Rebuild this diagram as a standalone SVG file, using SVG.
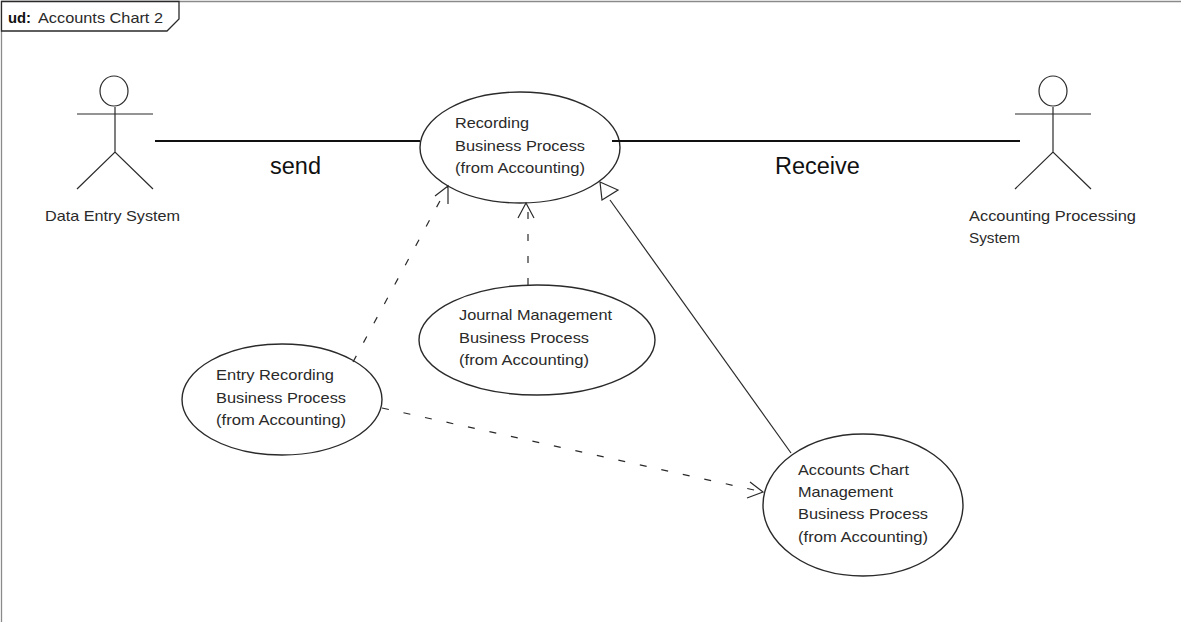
<svg xmlns="http://www.w3.org/2000/svg" width="1181" height="622" viewBox="0 0 1181 622">
<style>
.s{fill:none;stroke:#2a2a2a;stroke-width:1.2}
.e{fill:#fff;stroke:#2a2a2a;stroke-width:1.4}
.t{font-family:"Liberation Sans",Arial,sans-serif;font-size:14.5px;fill:#2a2a2a}
.b{font-family:"Liberation Sans",Arial,sans-serif;font-size:23.5px;fill:#111}
.a{fill:none;stroke:#111;stroke-width:2}
.d{fill:none;stroke:#2a2a2a;stroke-width:1.2;stroke-dasharray:7 15}
</style>
<rect width="1181" height="622" fill="#fff"/>
<g id="frame">
<path d="M1.5 622V1.5H1181" fill="none" stroke="#8a8a8a" stroke-width="1.3"/>
<path d="M1.5 1.5H179V19L167 31H1.5Z" fill="#fff" stroke="#2a2a2a" stroke-width="1.3"/>
<text x="8" y="23" style="font-family:'Liberation Sans',Arial,sans-serif;font-size:14px;font-weight:bold;fill:#111" textLength="23" lengthAdjust="spacingAndGlyphs">ud:</text>
<text class="t" x="38" y="23" textLength="125" lengthAdjust="spacingAndGlyphs">Accounts Chart 2</text>
</g>
<g id="actor-data-entry">
<ellipse class="s" cx="114" cy="91" rx="14" ry="15"/>
<path class="s" d="M77 114H153M115 107V152M77 189L115 152L153 189"/>
<text class="t" x="45" y="221" textLength="135" lengthAdjust="spacingAndGlyphs">Data Entry System</text>
</g>
<g id="actor-accounting">
<ellipse class="s" cx="1053" cy="91" rx="14" ry="15"/>
<path class="s" d="M1015 114H1091M1053 107V152M1015 189L1053 152L1091 189"/>
<text class="t" x="969" y="221" textLength="167" lengthAdjust="spacingAndGlyphs">Accounting Processing</text>
<text class="t" x="969" y="243" textLength="51" lengthAdjust="spacingAndGlyphs">System</text>
</g>
<g id="recording">
<ellipse class="e" cx="520" cy="147.5" rx="100" ry="55.5"/>
<text class="t" x="455" y="128" textLength="74" lengthAdjust="spacingAndGlyphs">Recording</text>
<text class="t" x="455" y="151" textLength="130" lengthAdjust="spacingAndGlyphs">Business Process</text>
<text class="t" x="455" y="173" textLength="130" lengthAdjust="spacingAndGlyphs">(from Accounting)</text>
</g>
<g id="journal">
<ellipse class="e" cx="537" cy="340" rx="118" ry="55"/>
<text class="t" x="459" y="320" textLength="153" lengthAdjust="spacingAndGlyphs">Journal Management</text>
<text class="t" x="459" y="343" textLength="130" lengthAdjust="spacingAndGlyphs">Business Process</text>
<text class="t" x="459" y="365" textLength="130" lengthAdjust="spacingAndGlyphs">(from Accounting)</text>
</g>
<g id="entry">
<ellipse class="e" cx="282" cy="399.5" rx="100" ry="55.5"/>
<text class="t" x="216" y="380" textLength="118" lengthAdjust="spacingAndGlyphs">Entry Recording</text>
<text class="t" x="216" y="403" textLength="130" lengthAdjust="spacingAndGlyphs">Business Process</text>
<text class="t" x="216" y="425" textLength="130" lengthAdjust="spacingAndGlyphs">(from Accounting)</text>
</g>
<g id="accounts-chart">
<ellipse class="e" cx="863" cy="505" rx="100" ry="71"/>
<text class="t" x="798" y="475" textLength="111" lengthAdjust="spacingAndGlyphs">Accounts Chart</text>
<text class="t" x="798" y="497" textLength="95" lengthAdjust="spacingAndGlyphs">Management</text>
<text class="t" x="798" y="519" textLength="130" lengthAdjust="spacingAndGlyphs">Business Process</text>
<text class="t" x="798" y="542" textLength="130" lengthAdjust="spacingAndGlyphs">(from Accounting)</text>
</g>
<g id="connectors">
<path class="a" d="M155 141H420M612 141H1020"/>
<path class="d" d="M353 362L448 186"/>
<path class="s" d="M435 196L448 186L448 204"/>
<path class="d" d="M528 285V205"/>
<path class="s" d="M518 218L526 203L534 218"/>
<path class="d" d="M382 408L763 492"/>
<path class="s" d="M750 482L763 492L747 498"/>
<path class="s" d="M791 453L610 200"/>
<path d="M600 182L618 190L602 200Z" fill="#fff" stroke="#2a2a2a" stroke-width="1.2"/>
</g>
<g id="labels">
<text class="b" x="270" y="174">send</text>
<text class="b" x="775" y="174">Receive</text>
</g>
</svg>
